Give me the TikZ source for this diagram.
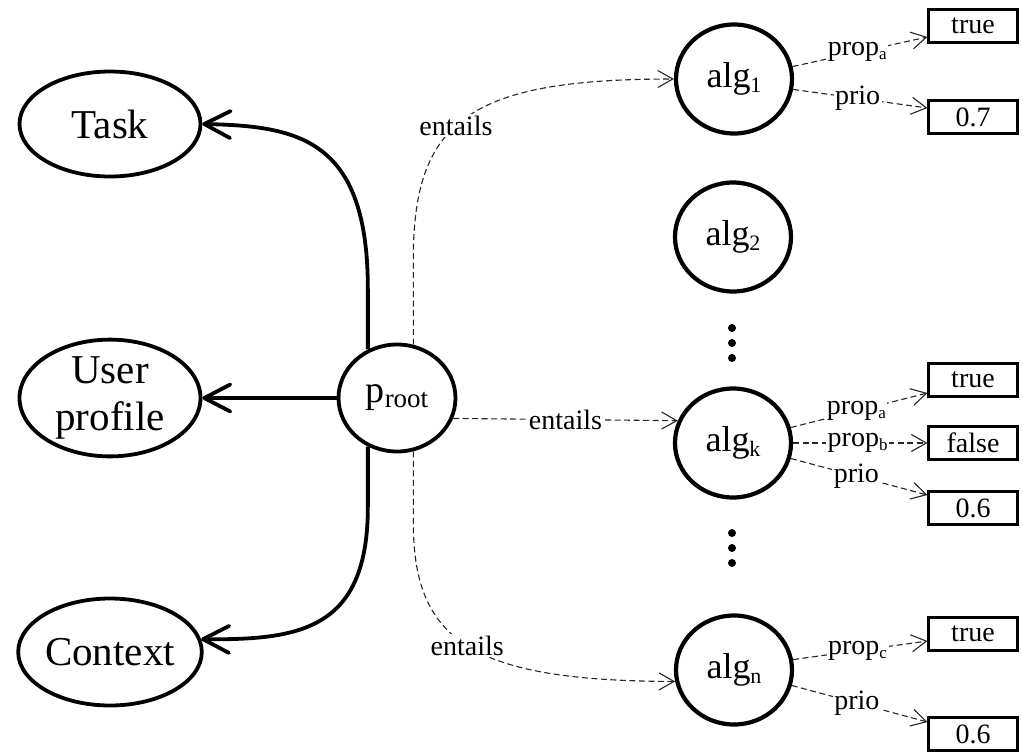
\documentclass[tikz,border=0pt]{standalone}
\usepackage{fontspec}
\setmainfont{Liberation Serif}
\usetikzlibrary{arrows.meta,calc,shapes.geometric}
\newcommand\bsub[1]{\raisebox{-0.14em}{\fontsize{22}{22}\selectfont #1}}
\newcommand\rsub[1]{\raisebox{-0.12em}{\fontsize{27}{27}\selectfont #1}}
\newcommand\ssub[1]{\raisebox{-0.14em}{\fontsize{17}{17}\selectfont #1}}
\tikzset{
  bigell/.style={ellipse, draw, line width=3.8pt, minimum width=181pt, minimum height=105pt, inner sep=0pt, font=\fontsize{41}{47}\selectfont, align=center},
  algnode/.style={ellipse, draw, line width=4.2pt, minimum width=116pt, minimum height=109pt, inner sep=0pt, font=\fontsize{36}{40}\selectfont},
  valbox/.style={rectangle, draw, line width=2.1pt, minimum width=89pt, minimum height=33pt, inner sep=0pt, font=\fontsize{28}{30}\selectfont},
  thickarrow/.style={line width=3.8pt, -{Straight Barb[length=26pt,width=27pt,round]}},
  dasharrow/.style={line width=1.1pt, black!85, dash pattern=on 6pt off 3.5pt, -{Straight Barb[length=15pt,width=17pt]}},
  elabel/.style={fill=white, inner sep=1.5pt, text=black, font=\fontsize{28}{30}\selectfont},
  vdot/.style={circle, fill, inner sep=0pt, minimum size=8pt}
}
\begin{document}
\begin{tikzpicture}[x=1pt,y=-1pt]
\path[fill=white] (0,0) rectangle (1023,753);
\useasboundingbox (0,0) rectangle (1023,753);

% left nodes
\node[bigell] (task) at (110,124) {Task};
\node[bigell, minimum height=101pt] (user) at (110,398) {User\\profile};
\node[bigell, minimum height=107pt] (context) at (110,652) {Context};

% root
\node[ellipse, draw, line width=3.8pt, minimum width=117pt, minimum height=107pt, inner sep=0pt, font=\fontsize{38}{40}\selectfont] (proot) at (397,398) {p\rsub{root}};

% algorithms
\node[algnode] (alg1) at (734,79) {alg\bsub{1}};
\node[algnode] (alg2) at (733,237) {alg\bsub{2}};
\node[algnode] (algk) at (733,443) {alg\bsub{k}};
\node[algnode] (algn) at (734,670) {alg\bsub{n}};

% dots
\node[vdot] (da1) at (732,328) {};
\node[vdot] (da2) at (732,343) {};
\node[vdot] (da3) at (732,358) {};
\node[vdot] (db1) at (732,533) {};
\node[vdot] (db2) at (732,548) {};
\node[vdot] (db3) at (732,563) {};

% value boxes
\node[valbox] (b1t) at (973,26) {true};
\node[valbox] (b1p) at (973,117) {0.7};
\node[valbox] (bkt) at (973,380) {true};
\node[valbox] (bkf) at (973,443) {false};
\node[valbox] (bkp) at (973,508) {0.6};
\node[valbox] (bnt) at (973,634) {true};
\node[valbox] (bnp) at (973,734) {0.6};

% thick arrows
\draw[thickarrow] (proot.121) -- ++(0,-60) .. controls (368,140) and (300,126) .. (task.east);
\draw[thickarrow] (proot.west) -- (user.east);
\draw[thickarrow] (proot.-121) -- ++(0,60) .. controls (368,630) and (300,640) .. (context.8);

% entails arrows
\draw[dasharrow] (proot.73) -- ++(0,-85) .. controls (413,120) and (470,79) .. (alg1.west) node[elabel,pos=0.45] {entails};
\draw[dasharrow] (proot.-20) -- (algk.158) node[elabel,midway] {entails};
\draw[dasharrow] (proot.-73) -- ++(0,70) .. controls (413,640) and (470,681) .. (algn.191) node[elabel,pos=0.5] {entails};

% property arrows
\draw[dasharrow] (alg1.12) -- ($(b1t.west)+(0,11)$) node[elabel,pos=0.48] {prop\ssub{a}};
\draw[dasharrow] (alg1.-10) -- ($(b1p.west)+(0,-9)$) node[elabel,pos=0.48] {prio};
\draw[dasharrow] (algk.15) -- ($(bkt.west)+(0,13)$) node[elabel,pos=0.48] {prop\ssub{a}};
\draw[dasharrow] (algk.0) -- (bkf.west) node[elabel,pos=0.48] {prop\ssub{b}};
\draw[dasharrow] (algk.-15) -- ($(bkp.west)+(0,-13)$) node[elabel,pos=0.48] {prio};
\draw[dasharrow] (algn.10) -- ($(bnt.west)+(0,7)$) node[elabel,pos=0.48] {prop\ssub{c}};
\draw[dasharrow] (algn.-15) -- ($(bnp.west)+(0,-12)$) node[elabel,pos=0.48] {prio};
\end{tikzpicture}
\end{document}
